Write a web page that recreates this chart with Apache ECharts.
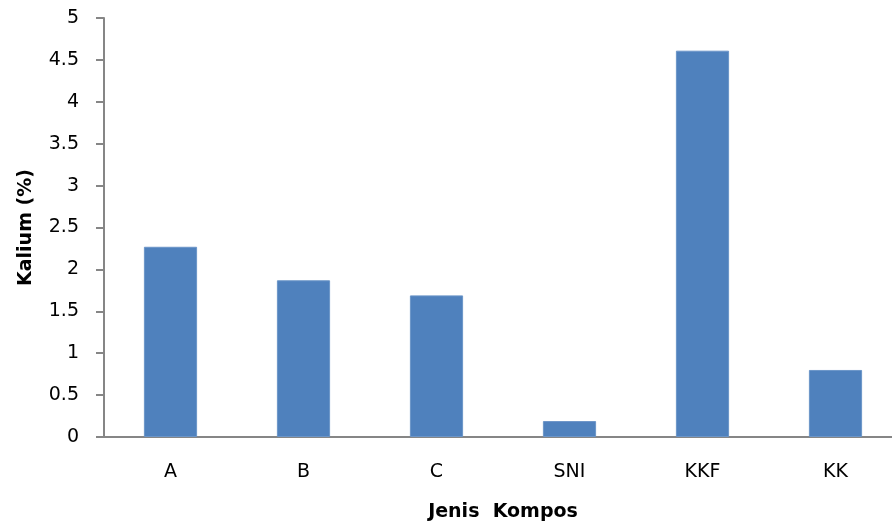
<!DOCTYPE html>
<html>
<head>
<meta charset="utf-8">
<script src="https://cdn.jsdelivr.net/npm/echarts@6/dist/echarts.min.js"></script>
<style>
  html, body { margin: 0; padding: 0; background: #fff; }
  #chart { width: 892px; height: 524px; }
</style>
</head>
<body>
<div id="chart"></div>
<script>
// Potassium content per compost type
const categories = ['A', 'B', 'C', 'SNI', 'KKF', 'KK'];
const kalium = [2.27, 1.87, 1.69, 0.19, 4.61, 0.80];
const yMin = 0, yMax = 5, yStep = 0.5;

const chart = echarts.init(document.getElementById('chart'));
const font = '"DejaVu Sans", sans-serif';
const axisGray = '#868686';

chart.setOption({
  animation: false,
  backgroundColor: '#ffffff',
  // plot area runs a little past the right edge of the canvas
  grid: {
    left: 104, top: 18, width: 798, height: 419,
    containLabel: false, outerBoundsMode: 'none'
  },
  xAxis: {
    type: 'category',
    data: categories,
    name: 'Jenis  Kompos',
    nameLocation: 'middle',
    nameGap: 66,
    nameTextStyle: { fontFamily: font, fontWeight: 'bold', fontSize: 19, color: '#000' },
    axisLine: { lineStyle: { color: axisGray, width: 2 } },
    axisTick: { show: false },
    axisLabel: { fontFamily: font, fontSize: 19, color: '#000', margin: 26 }
  },
  yAxis: {
    type: 'value',
    min: yMin, max: yMax, interval: yStep,
    name: 'Kalium (%)',
    nameLocation: 'middle',
    nameRotate: 90,
    nameGap: 68,
    nameTextStyle: { fontFamily: font, fontWeight: 'bold', fontSize: 19, color: '#000' },
    axisLine: { show: true, lineStyle: { color: axisGray, width: 2 } },
    axisTick: { show: true, length: 8, lineStyle: { color: axisGray, width: 2 } },
    splitLine: { show: false },
    axisLabel: { fontFamily: font, fontSize: 19, color: '#000', margin: 25 }
  },
  series: [{
    type: 'bar',
    data: kalium,
    barWidth: '40%',
    itemStyle: { color: '#4F81BD', borderColor: '#6b95c8', borderWidth: 1 }
  }]
});
</script>
</body>
</html>
